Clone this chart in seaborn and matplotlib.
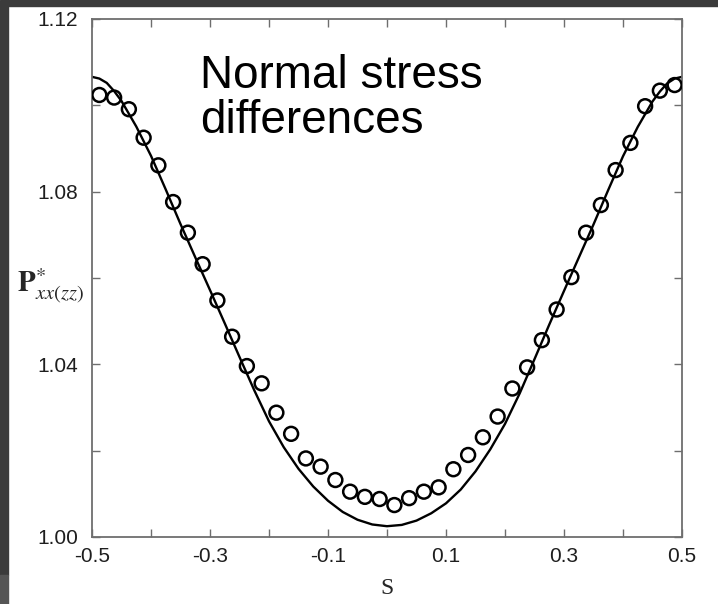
import matplotlib
matplotlib.use("Agg")
import pandas as pd
import matplotlib.pyplot as plt
import seaborn as sns
from matplotlib.patches import Rectangle

# simulation points (circles)
s_sim = [-0.4875, -0.4625, -0.4375, -0.4125, -0.3875, -0.3625, -0.3375, -0.3125,
         -0.2875, -0.2625, -0.2375, -0.2125, -0.1875, -0.1625, -0.1375, -0.1125,
         -0.0875, -0.0625, -0.0375, -0.0125, 0.0125, 0.0375, 0.0625, 0.0875,
         0.1125, 0.1375, 0.1625, 0.1875, 0.2125, 0.2375, 0.2625, 0.2875,
         0.3125, 0.3375, 0.3625, 0.3875, 0.4125, 0.4375, 0.4625, 0.4875]
p_sim = [1.1024, 1.1018, 1.0991, 1.0925, 1.0861, 1.0776, 1.0705, 1.0632,
         1.0548, 1.0464, 1.0396, 1.0356, 1.0288, 1.0239, 1.0182, 1.0163,
         1.0132, 1.0105, 1.0093, 1.0088, 1.0074, 1.0090, 1.0105, 1.0115,
         1.0157, 1.0190, 1.0231, 1.0279, 1.0344, 1.0393, 1.0456, 1.0527,
         1.0602, 1.0705, 1.0769, 1.0850, 1.0913, 1.0998, 1.1034, 1.1047]

# theory curve (solid line)
s_line = [-0.5, -0.4875, -0.475, -0.4625, -0.45, -0.425, -0.4, -0.375, -0.35, -0.325,
          -0.3, -0.275, -0.25, -0.225, -0.2, -0.175, -0.15, -0.125, -0.1, -0.075,
          -0.05, -0.025, 0.0, 0.025, 0.05, 0.075, 0.1, 0.125, 0.15, 0.175,
          0.2, 0.225, 0.25, 0.275, 0.3, 0.325, 0.35, 0.375, 0.4, 0.425,
          0.45, 0.4625, 0.475, 0.4875, 0.5]
p_line = [1.1066, 1.1062, 1.1052, 1.1033, 1.1010, 1.0951, 1.0883, 1.0805, 1.0725, 1.0648,
          1.0572, 1.0495, 1.0417, 1.0340, 1.0268, 1.0208, 1.0158, 1.0117, 1.0084, 1.0058,
          1.0040, 1.0029, 1.0025, 1.0028, 1.0038, 1.0055, 1.0078, 1.0110, 1.0152, 1.0203,
          1.0262, 1.0333, 1.0412, 1.0492, 1.0570, 1.0647, 1.0724, 1.0804, 1.0882, 1.0950,
          1.1009, 1.1032, 1.1051, 1.1062, 1.1066]

x_major = [-0.5, -0.3, -0.1, 0.1, 0.3, 0.5]
x_minor = [-0.4, -0.2, 0.0, 0.2, 0.4]
y_major = [1.00, 1.04, 1.08, 1.12]
y_minor = [1.02, 1.06, 1.10]

sns.set_style("ticks")
plt.rcParams['font.family'] = ['Liberation Sans', 'DejaVu Sans']
plt.rcParams['mathtext.fontset'] = 'stix'

fig = plt.figure(figsize=(7.18, 6.04), dpi=100)
fig.patch.set_facecolor("white")
ax = fig.add_axes([92/718, 1-537/604, 590/718, 518/604])

sim = pd.DataFrame({"s": s_sim, "P": p_sim})
theory = pd.DataFrame({"s": s_line, "P": p_line})

sns.lineplot(data=theory, x="s", y="P", ax=ax, color="black", linewidth=1.7, sort=False)
sns.scatterplot(data=sim, x="s", y="P", ax=ax, marker="o", s=100,
                facecolor="none", edgecolor="black", linewidth=1.8, zorder=3)

ax.set_xlim(-0.5, 0.5)
ax.set_ylim(1.0, 1.12)
ax.set_xticks(x_major)
ax.set_xticklabels(["-0.5", "-0.3", "-0.1", "0.1", "0.3", "0.5"])
ax.set_xticks(x_minor, minor=True)
ax.set_yticks(y_major)
ax.set_yticklabels(["1.00", "1.04", "1.08", "1.12"])
ax.set_yticks(y_minor, minor=True)

for sp in ax.spines.values():
    sp.set_visible(True)
    sp.set_color("#6e6e6e")
    sp.set_linewidth(1.3)
ax.tick_params(which="both", direction="in", length=6, width=1, color="#6e6e6e",
               top=True, right=True, labelsize=15, labelcolor="#1e1e1e")
ax.tick_params(axis="y", which="both", pad=10)
ax.tick_params(axis="x", which="both", pad=7)

ax.set_xlabel("S", fontfamily="Liberation Serif", fontsize=17)
ax.xaxis.set_label_coords(0.5, -0.08)
ax.set_ylabel(r"$\mathbf{P}^{*}_{xx(zz)}$", rotation=0, fontsize=21, ha="center", va="center")
ax.yaxis.set_label_coords(-0.071, 0.486)

fig.text(200/718, 1-54/604, "Normal stress\ndifferences", fontsize=33,
         ha="left", va="top", color="black", linespacing=1.03)

# dark frame strips
fig.patches.append(Rectangle((0, 1-6/604), 1, 6/604, transform=fig.transFigure,
                             color="#3b3b3b", zorder=0))
fig.patches.append(Rectangle((0, 29/604), 8/718, 569/604, transform=fig.transFigure,
                             color="#3b3b3b", zorder=0))
fig.patches.append(Rectangle((0, 0), 8/718, 29/604, transform=fig.transFigure,
                             color="#555555", zorder=0))

fig.savefig("out.png", dpi=100)
